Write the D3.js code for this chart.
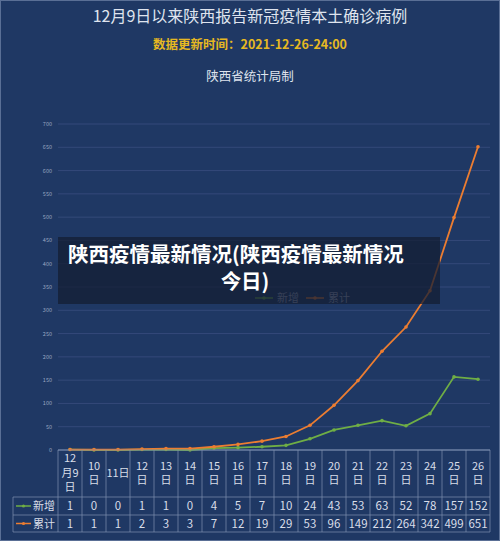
<!DOCTYPE html><html><head><meta charset="utf-8"><script src="https://cdn.jsdelivr.net/npm/d3@7"></script>
<style>body{margin:0;background:#1f3864}text{font-family:"Noto Sans CJK SC",sans-serif}</style></head><body><svg id="c" width="500" height="541"></svg>
<script>
const days=["12月9日","10日","11日","12日","13日","14日","15日","16日","17日","18日","19日","20日","21日","22日","23日","24日","25日","26日"];
const newCases=[1,0,0,1,1,0,4,5,7,10,24,43,53,63,52,78,157,152];
const totalCases=[1,1,1,2,3,3,7,12,19,29,53,96,149,212,264,342,499,651];
const yTicks=d3.range(0,701,50);
const svg=d3.select("#c");
svg.append("rect").attr("width",500).attr("height",541).attr("fill","#1f3864");
svg.append("rect").attr("x",0.5).attr("y",0.5).attr("width",499).attr("height",540).attr("fill","none").attr("stroke","#5a6f95");
const serif='"Liberation Serif","Noto Serif CJK SC",serif';
svg.append("text").attr("x",250).attr("y",22).attr("text-anchor","middle").attr("fill","#dfe4ee").attr("font-size",16).attr("font-family",serif).text("12月9日以来陕西报告新冠疫情本土确诊病例");
svg.append("text").attr("x",250).attr("y",49).attr("text-anchor","middle").attr("fill","#e6b822").attr("font-size",12.5).attr("font-weight","bold").attr("font-family",serif).text("数据更新时间：2021-12-26-24:00");
svg.append("text").attr("x",250).attr("y",81).attr("text-anchor","middle").attr("fill","#dfe4ee").attr("font-size",12.5).text("陕西省统计局制");
const x0=58,x1=490,cw=(x1-x0)/days.length;
const x=d3.scaleBand().domain(days).range([x0,x1]);
const y=d3.scaleLinear().domain([0,700]).range([450,124]);
const g=svg.append("g");
yTicks.forEach(t=>{
 g.append("line").attr("x1",x0).attr("x2",x1).attr("y1",y(t)).attr("y2",y(t)).attr("stroke",t==0?"#6b7fa5":"#34497a");
 g.append("text").attr("x",52).attr("y",y(t)+2).attr("text-anchor","end").attr("fill","#9aa7c2").attr("font-size",5.5).text(t);
});
const cx=d=>x(d)+cw/2;
function series(vals,col){
 const line=d3.line().x((v,i)=>cx(days[i])).y(v=>y(v));
 g.append("path").attr("d",line(vals)).attr("fill","none").attr("stroke",col).attr("stroke-width",1.8);
 g.selectAll(null).data(vals).enter().append("circle").attr("cx",(v,i)=>cx(days[i])).attr("cy",v=>y(v)).attr("r",1.8).attr("fill",col);
}
series(newCases,"#6fae45");
series(totalCases,"#ec7d31");
const lg=svg.append("g").attr("font-size",11).attr("fill","#9aa7c2");
[[255,"#6fae45","新增"],[306,"#ec7d31","累计"]].forEach(([lx,c,t])=>{
 lg.append("line").attr("x1",lx).attr("x2",lx+18).attr("y1",298).attr("y2",298).attr("stroke",c).attr("stroke-width",1.5);
 lg.append("circle").attr("cx",lx+9).attr("cy",298).attr("r",1.8).attr("fill",c);
 lg.append("text").attr("x",lx+22).attr("y",302).text(t);
});
const tg=svg.append("g").attr("stroke","#7e8fb0").attr("stroke-width",0.7);
tg.append("line").attr("x1",x0).attr("x2",x1).attr("y1",450).attr("y2",450);
[497,515,532].forEach(v=>tg.append("line").attr("x1",13).attr("x2",x1).attr("y1",v).attr("y2",v));
tg.append("line").attr("x1",13).attr("x2",13).attr("y1",497).attr("y2",532);
d3.range(days.length+1).forEach(i=>tg.append("line").attr("x1",x0+i*cw).attr("x2",x0+i*cw).attr("y1",450).attr("y2",532));
const ser='"Liberation Serif",serif';
days.forEach((d,i)=>{
 const c=cx(d);
 let lines;
 if(i==0) lines=["12","月9","日"]; else if(d=="11日") lines=["11日"]; else lines=[d.replace("日",""),"日"];
 const lh=14.5,h=lines.length*lh, st=473-h/2+11;
 lines.forEach((l,k)=>svg.append("text").attr("x",c).attr("y",st+k*lh).attr("text-anchor","middle").attr("fill","#d8dde8").attr("font-size",11).attr("font-family",ser).text(l));
 svg.append("text").attr("x",c).attr("y",510).attr("text-anchor","middle").attr("fill","#d8dde8").attr("font-size",11.5).attr("font-family",ser).text(newCases[i]);
 svg.append("text").attr("x",c).attr("y",528).attr("text-anchor","middle").attr("fill","#d8dde8").attr("font-size",11.5).attr("font-family",ser).text(totalCases[i]);
});
[[506,"#6fae45","新增"],[523.5,"#ec7d31","累计"]].forEach(([ly,c,t])=>{
 svg.append("line").attr("x1",16).attr("x2",31).attr("y1",ly).attr("y2",ly).attr("stroke",c).attr("stroke-width",1.5);
 svg.append("circle").attr("cx",23.5).attr("cy",ly).attr("r",1.6).attr("fill",c);
 svg.append("text").attr("x",33).attr("y",ly+4).attr("fill","#d8dde8").attr("font-size",11).text(t);
});
svg.append("rect").attr("x",58).attr("y",237).attr("width",382).attr("height",67).attr("fill","#141d33").attr("opacity",0.75);
svg.append("text").attr("x",68).attr("y",262).attr("fill","#fff").attr("font-size",20.5).attr("font-weight","bold").text("陕西疫情最新情况(陕西疫情最新情况");
svg.append("text").attr("x",245).attr("y",289).attr("text-anchor","middle").attr("fill","#fff").attr("font-size",20.5).attr("font-weight","bold").text("今日)");
</script></body></html>
